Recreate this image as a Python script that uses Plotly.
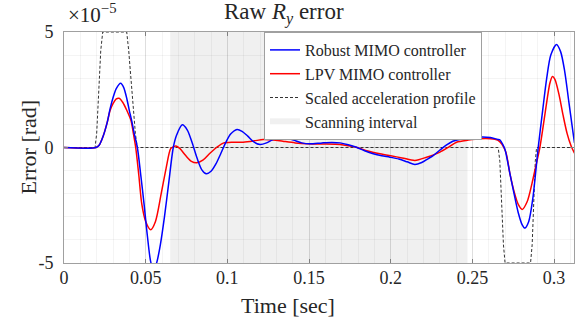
import plotly.graph_objects as go

# ---- data (error values in units of 1e-5 rad) ----
robust_t = [0, 0.0196, 0.0215, 0.024, 0.0265, 0.0282, 0.030, 0.032, 0.0347, 0.0365, 0.0385, 0.040,
            0.0414, 0.043, 0.0449, 0.047, 0.049, 0.051, 0.0531, 0.0549, 0.0567, 0.059, 0.0615, 0.064,
            0.0669, 0.069, 0.0724, 0.0755, 0.0785, 0.0815, 0.0845, 0.0871, 0.090, 0.093, 0.096, 0.099,
            0.102, 0.1059, 0.109, 0.1125, 0.116, 0.120, 0.124, 0.128, 0.134, 0.140, 0.1455, 0.1505,
            0.158, 0.164, 0.169, 0.174, 0.179, 0.184, 0.1893, 0.1945, 0.1995, 0.205, 0.210, 0.2148,
            0.219, 0.223, 0.226, 0.230, 0.234, 0.238, 0.244, 0.2546, 0.261, 0.2655, 0.2668, 0.2685,
            0.270, 0.273, 0.2755, 0.278, 0.2805, 0.2821, 0.2845, 0.287, 0.2903, 0.293, 0.2955, 0.298,
            0.3015, 0.304, 0.3065, 0.309, 0.3115, 0.3125]
robust_y = [0, 0, 0.1, 0.5, 1.1, 1.67, 2.15, 2.55, 2.78, 2.6, 2.1, 1.6,
            1.17, 0.6, 0.0, -1.2, -2.44, -3.8, -4.95, -5.3, -5.0, -4.2, -3.0, -1.6,
            0.0, 0.55, 0.98, 0.755, 0.19, -0.47, -0.98, -1.14, -1.03, -0.71, -0.26, 0.21,
            0.58, 0.78, 0.70, 0.49, 0.25, 0.13, 0.2, 0.34, 0.42, 0.33, 0.2, 0.16,
            0.2, 0.22, 0.2, 0.12, 0.01, -0.14, -0.27, -0.36, -0.42, -0.5, -0.62, -0.74,
            -0.65, -0.48, -0.35, -0.12, 0.1, 0.27, 0.38, 0.45, 0.43, 0.35, 0.33, 0.15,
            -0.1, -1.14, -2.0, -2.8, -3.35, -3.49, -3.2, -2.2, 0.0, 1.6, 3.0, 4.0,
            4.46, 4.15, 3.3, 2.0, 0.7, 0.2]

lpv_t = [0, 0.0196, 0.0215, 0.024, 0.0265, 0.0282, 0.030, 0.032, 0.0337, 0.036, 0.0385, 0.041,
         0.0425, 0.0439, 0.0458, 0.0476, 0.050, 0.0531, 0.056, 0.0595, 0.0625, 0.0653, 0.067, 0.0685,
         0.071, 0.0745, 0.078, 0.0812, 0.085, 0.089, 0.0934, 0.0975, 0.1035, 0.1097, 0.116, 0.122,
         0.128, 0.134, 0.1415, 0.1485, 0.158, 0.169, 0.174, 0.179, 0.186, 0.1934, 0.200, 0.207,
         0.2148, 0.222, 0.2301, 0.2355, 0.2403, 0.2475, 0.2546, 0.261, 0.2655, 0.268, 0.2705, 0.273,
         0.2755, 0.278, 0.2805, 0.2835, 0.2865, 0.289, 0.2913, 0.2935, 0.296, 0.2975, 0.299, 0.3005,
         0.303, 0.3055, 0.308, 0.3105, 0.3125]
lpv_y = [0, 0, 0.1, 0.5, 1.1, 1.6, 1.9, 2.1, 2.13, 1.95, 1.6, 1.17,
         0.6, 0.0, -1.2, -2.44, -3.2, -3.56, -3.2, -2.0, -0.9, -0.05, 0.03, 0.06,
         -0.05, -0.35, -0.6, -0.66, -0.55, -0.27, 0.0, 0.19, 0.23, 0.23, 0.28, 0.35,
         0.33, 0.27, 0.2, 0.16, 0.15, 0.13, 0.08, 0.01, -0.15, -0.27, -0.36, -0.45,
         -0.56, -0.42, -0.2, 0.02, 0.23, 0.32, 0.38, 0.38, 0.32, 0.15, -0.2, -1.14,
         -1.9, -2.45, -2.68, -2.35, -1.55, -0.75, 0.0, 1.0, 2.2, 2.8, 3.07, 2.95,
         2.3, 1.4, 0.6, 0.05, -0.25]

accel_t = [0, 0.019, 0.020, 0.0225, 0.0237, 0.0384, 0.0396, 0.0437, 0.0449, 0.2658, 0.2668,
           0.269, 0.270, 0.2856, 0.2866, 0.2885, 0.2893, 0.3125]
accel_y = [0, 0, 0.6, 4.2, 5, 5, 4.2, 0.6, 0, 0, -0.6, -4.2, -5, -5, -4.2, -0.6, 0, 0]

scan_interval = [0.065, 0.247]
x_ticks = [0, 0.05, 0.1, 0.15, 0.2, 0.25, 0.3]
y_ticks = [-5, 0, 5]
y_tick_text = ["-5", "0", "5"]

FONT = "Liberation Serif"
TXT = "#262626"

fig = go.Figure()

fig.add_trace(go.Scatter(
    x=[scan_interval[0], scan_interval[1], scan_interval[1], scan_interval[0], scan_interval[0]],
    y=[-5, -5, 5, 5, -5], mode="none", fill="toself",
    fillcolor="rgba(0,0,0,0.06)", name="Scanning interval", legendrank=4,
    hoverinfo="skip"))

fig.add_trace(go.Scatter(x=accel_t, y=accel_y, mode="lines",
                         line=dict(color="#333333", width=1, dash="3px,2px"),
                         name="Scaled acceleration profile", legendrank=3))
fig.add_trace(go.Scatter(x=lpv_t, y=lpv_y, mode="lines", line_shape="spline",
                         line=dict(color="#ff0000", width=1.5, smoothing=0.8),
                         name="LPV MIMO controller", legendrank=2))
fig.add_trace(go.Scatter(x=robust_t, y=robust_y, mode="lines", line_shape="spline",
                         line=dict(color="#0000ff", width=1.5, smoothing=0.8),
                         name="Robust MIMO controller", legendrank=1))

axis_common = dict(
    showline=True, linecolor="#a0a0a0", linewidth=1, mirror="ticks",
    ticks="inside", ticklen=4, tickcolor="#808080",
    showgrid=True, gridcolor="rgba(0,0,0,0.09)", gridwidth=1,
    zeroline=False, automargin=False,
    tickfont=dict(family=FONT, size=18, color=TXT),
)

fig.update_xaxes(range=[0, 0.3122], tickvals=x_ticks,
                 ticktext=[f"{v:g}" for v in x_ticks],
                 minor=dict(dtick=0.01, tick0=0, showgrid=True, gridcolor="rgba(0,0,0,0.045)", ticks=""),
                 ticklabelstandoff=-2, **axis_common)
fig.update_yaxes(range=[-5, 5], tickvals=y_ticks, ticktext=y_tick_text,
                 minor=dict(dtick=1, tick0=0, showgrid=True, gridcolor="rgba(0,0,0,0.045)", ticks=""),
                 ticklabelstandoff=6, **axis_common)

fig.update_layout(
    width=579, height=324,
    margin=dict(l=64, r=5, t=32, b=61, autoexpand=False),
    paper_bgcolor="white", plot_bgcolor="white",
    font=dict(family=FONT, color=TXT),
    showlegend=True,
    legend=dict(x=(264 - 64) / 510, y=1, xanchor="left", yanchor="top",
                bgcolor="white", bordercolor="#a0a0a0", borderwidth=1,
                font=dict(family=FONT, size=16, color=TXT),
                itemwidth=30, tracegroupgap=0),
    annotations=[
        dict(text="Raw <i>R</i><sub><i>y</i></sub> error", x=(284 - 64) / 510, y=(263 - 13) / 231,
             xref="paper", yref="paper", xanchor="center", yanchor="middle",
             showarrow=False, font=dict(family=FONT, size=23, color=TXT)),
        dict(text="×10<sup>−5</sup>", x=(66 - 64) / 510, y=(263 - 13) / 231,
             xref="paper", yref="paper", xanchor="left", yanchor="middle",
             showarrow=False, font=dict(family=FONT, size=21, color=TXT)),
        dict(text="Time [sec]", x=(288 - 64) / 510, y=-(305 - 263) / 231,
             xref="paper", yref="paper", xanchor="center", yanchor="middle",
             showarrow=False, font=dict(family=FONT, size=22, color=TXT)),
        dict(text="Error [rad]", x=(28 - 64) / 510, y=0.5, textangle=-90,
             xref="paper", yref="paper", xanchor="center", yanchor="middle",
             showarrow=False, font=dict(family=FONT, size=22, color=TXT)),
    ],
)

fig.write_html("out.html", config={"displayModeBar": False},
               post_script="document.body.style.margin='0';document.body.style.overflow='hidden';")
